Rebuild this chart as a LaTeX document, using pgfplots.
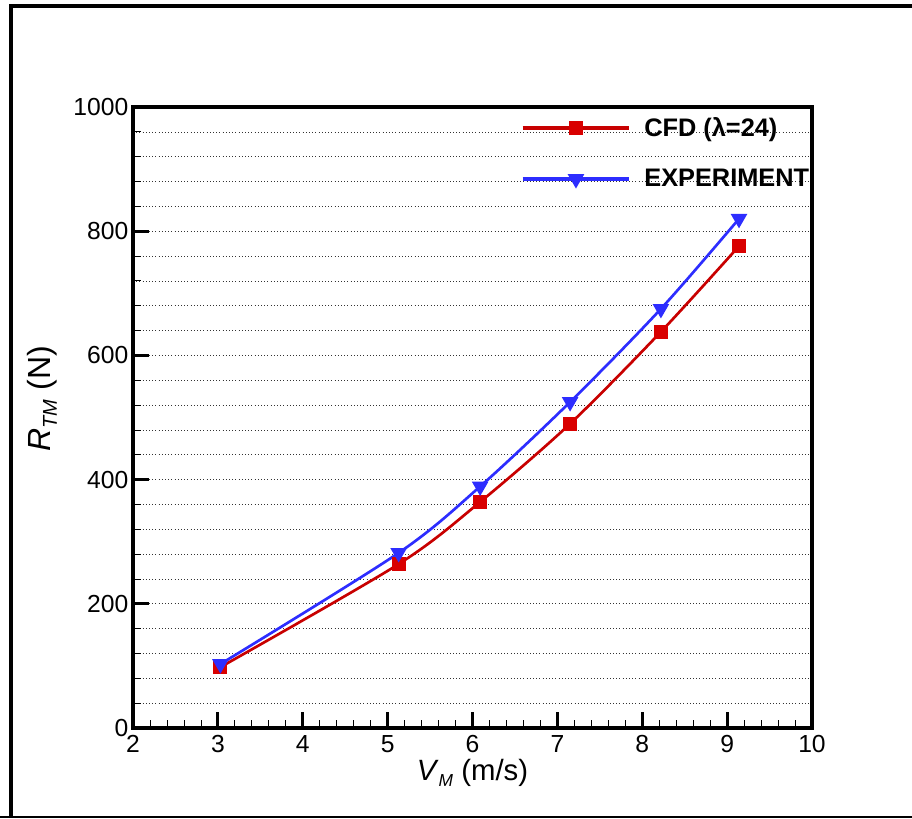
\documentclass[border=0pt]{standalone}
\usepackage{pgfplots}
\pgfplotsset{compat=1.18}
\usepackage{fontspec}
\setmainfont{Liberation Sans}
\definecolor{cfdred}{RGB}{200,0,0}
\definecolor{expblue}{RGB}{45,45,255}
\begin{document}
\begin{tikzpicture}[x=0.75pt,y=0.75pt]
\useasboundingbox (0,0) rectangle (912,818);
% outer frame (px coordinates, y measured from bottom)
\draw[line width=3.5pt] (11,0) -- (11,812) -- (920,812);
\draw[line width=1.2pt] (0,1) -- (912,1);
\begin{axis}[
  at={(133*0.75pt,90*0.75pt)}, anchor=south west,
  scale only axis, width=509.25pt, height=465.75pt,
  xmin=2, xmax=10, ymin=0, ymax=1000,
  xtick={2,3,...,10}, ytick={0,200,...,1000},
  minor x tick num=4, minor y tick num=4,
  tick align=inside, xtick pos=bottom, ytick pos=left,
  major tick length=12pt, minor tick length=6pt,
  every major tick/.style={line width=2.2pt,black},
  every minor tick/.style={line width=0.6pt,black},
  axis line style={line width=2.5pt},
  ymajorgrids, yminorgrids,
  major grid style={dotted, line width=0.5pt, black!80},
  minor grid style={dotted, line width=0.5pt, black!80},
  tick label style={font=\fontsize{18.5}{20}\selectfont},
  /pgf/number format/assume math mode=true,
  /pgf/number format/1000 sep={},
  xticklabel style={yshift=-2pt},
  xlabel={\fontsize{22}{24}\selectfont\textit{V}\raisebox{-0.35ex}{\fontsize{13}{14}\selectfont\textit{M}} (m/s)},
  ylabel={\fontsize{24}{26}\selectfont\textit{R}\raisebox{-0.35ex}{\fontsize{15}{16}\selectfont\textit{TM}} (N)},
  xlabel style={yshift=2pt},
  ylabel style={yshift=5pt, xshift=14pt},
  legend style={draw=none, fill=none, at={(axis cs:6.52,992)}, anchor=north west,
    font=\bfseries\fontsize{19}{20}\selectfont, row sep=19pt},
  legend cell align=left,
  legend image code/.code={%
    \draw[#1,line width=2.6pt] (0pt,0pt) -- (80pt,0pt);%
    \path[#1] plot coordinates {(40pt,0pt)};},
]
\addplot[cfdred, line width=2pt, smooth, mark=square*, mark size=4.2pt, mark options={solid, fill=red!85!black, draw=red!85!black}]
  coordinates {(3.03,98) (5.13,264) (6.09,364) (7.15,490) (8.22,638) (9.14,776)};
\addlegendentry{\hspace{8pt}CFD (λ=24)}
\addplot[expblue, line width=2pt, smooth, mark=triangle*, mark size=5.2pt, mark options={solid, rotate=180, fill=expblue, draw=expblue}]
  coordinates {(3.03,103) (5.13,282) (6.09,389) (7.15,525) (8.22,675) (9.14,820)};
\addlegendentry{\hspace{8pt}EXPERIMENT}
\end{axis}
\end{tikzpicture}
\end{document}
